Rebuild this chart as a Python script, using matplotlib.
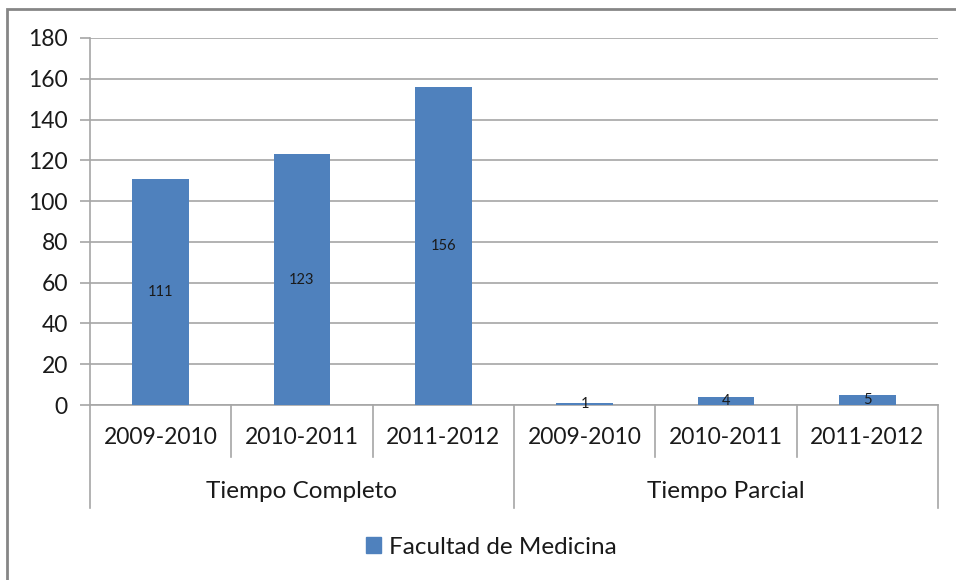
import matplotlib
matplotlib.use("Agg")
import matplotlib.pyplot as plt
from matplotlib.patches import Rectangle, Patch
from matplotlib.lines import Line2D
import matplotlib.transforms as mtransforms

groups = ["Tiempo Completo", "Tiempo Parcial"]
years = ["2009-2010", "2010-2011", "2011-2012"]
values = [111, 123, 156, 1, 4, 5]
series_name = "Facultad de Medicina"

plt.rcParams['font.family'] = ['Lato', 'DejaVu Sans']
W, H = 956, 580
fig = plt.figure(figsize=(W / 100, H / 100), dpi=100)
ax = fig.add_axes([90 / W, (H - 405) / H, (938 - 90) / W, (405 - 38) / H])

bar_color = "#4F81BD"
grid_color = "#A6A6A6"
txt = "#1a1a1a"

xs = list(range(len(values)))
ax.bar(xs, values, width=0.4, color=bar_color, zorder=3)
for x, v in zip(xs, values):
    ax.text(x, v / 2, str(v), ha="center", va="center", fontsize=10.5, color=txt, zorder=4)

ax.set_xlim(-0.5, len(values) - 0.5)
ax.set_ylim(0, 180)
ax.set_yticks(range(0, 181, 20))
ax.yaxis.grid(True, color=grid_color, linewidth=1.2, zorder=0)
ax.tick_params(axis="y", length=7, width=1.2, color=grid_color, pad=9, labelsize=16.5, labelcolor=txt)
ax.set_xticks([])
for s in ["top", "right"]:
    ax.spines[s].set_visible(False)
ax.spines["left"].set_color(grid_color)
ax.spines["bottom"].set_color(grid_color)
ax.spines["left"].set_linewidth(1.2)
ax.spines["bottom"].set_linewidth(1.2)

trans = mtransforms.blended_transform_factory(ax.transData, ax.transAxes)
ah = (405 - 38)
short = -52 / ah
long_ = -103 / ah
for i in range(len(values) + 1):
    xb = i - 0.5
    if i % 3 == 0:
        y1 = long_
    else:
        y1 = short
    ax.add_line(Line2D([xb, xb], [0, y1], transform=trans, color=grid_color,
                       linewidth=1.2, clip_on=False))
for i, x in enumerate(xs):
    ax.text(x, -33 / ah, years[i % 3], transform=trans, ha="center", va="center",
            fontsize=16.5, color=txt)
for g, name in enumerate(groups):
    ax.text(g * 3 + 1, -87 / ah, name, transform=trans, ha="center", va="center",
            fontsize=17.5, color=txt)

leg = fig.legend(handles=[Patch(color=bar_color, label=series_name)],
                 loc="center", bbox_to_anchor=(491 / W, 1 - 547 / H), frameon=False,
                 fontsize=17.5, handlelength=0.65, handleheight=0.65, handletextpad=0.3,
                 labelcolor=txt)

fig.patches.append(Rectangle((7 / W, -0.1), 1.2, (H - 9) / H + 0.1, transform=fig.transFigure,
                             fill=False, edgecolor="#868686", linewidth=2))

fig.savefig("out.png", dpi=100)
